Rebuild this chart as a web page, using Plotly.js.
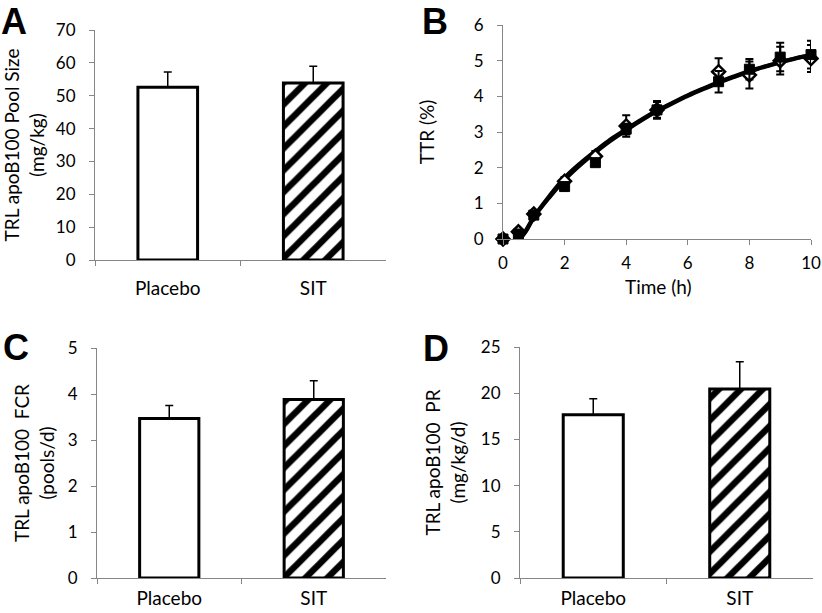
<!DOCTYPE html>
<html>
<head>
<meta charset="utf-8">
<script src="https://cdn.plot.ly/plotly-3.0.1.min.js"></script>
<style>html,body{margin:0;padding:0;background:#fff}#chart{width:822px;height:613px}</style>
</head>
<body>
<div id="chart"></div>
<script>
// ---- data ----
const groups = ['Placebo', 'SIT'];
const poolSize = [52.6, 53.9];
const poolSizeErr = [4.6, 5.1];
const fcr = [3.47, 3.88];
const fcrErr = [0.28, 0.41];
const pr = [17.67, 20.45];
const prErr = [1.73, 2.95];

const timeH = [0, 0.5, 1, 2, 3, 4, 5, 7, 8, 9, 10];
const ttrPlacebo = [0, 0.2, 0.7, 1.62, 2.32, 3.17, 3.62, 4.69, 4.6, 5.0, 5.06];
const ttrPlaceboErr = [0, 0.05, 0.08, 0.12, 0.15, 0.3, 0.25, 0.38, 0.38, 0.39, 0.38];
const ttrSIT = [0, 0.14, 0.67, 1.47, 2.14, 3.08, 3.62, 4.41, 4.76, 5.1, 5.17];
const ttrSITErr = [0, 0.04, 0.08, 0.1, 0.1, 0.15, 0.22, 0.3, 0.29, 0.4, 0.39];

const fitTime = [0.55, 0.75, 1, 1.5, 2, 2.5, 3, 3.5, 4, 4.5, 5, 5.5, 6, 6.5, 7, 7.5, 8, 8.5, 9, 9.5, 10];
const fitPlacebo = [0, 0.25, 0.62, 1.2, 1.72, 2.12, 2.47, 2.8, 3.08, 3.35, 3.6, 3.82, 4.03, 4.22, 4.4, 4.56, 4.71, 4.84, 4.96, 5.07, 5.16];
const fitSIT = [0, 0.22, 0.6, 1.16, 1.66, 2.07, 2.43, 2.76, 3.05, 3.33, 3.58, 3.8, 4.01, 4.2, 4.38, 4.54, 4.69, 4.83, 4.95, 5.06, 5.15];

// ---- styles ----
const FONT = 'Lato, "Open Sans", sans-serif';
const AXC = '#868686';
const W = 822, H = 613;
const px = v => v / W;
const py = v => 1 - v / H;

function barTrace(vals, errs, xa, ya) {
  return {
    type: 'bar', x: groups, y: vals, xaxis: xa, yaxis: ya, width: 0.41,
    marker: {
      color: '#ffffff',
      line: {color: '#000000', width: 3},
      pattern: {shape: ['', '/'], fgcolor: '#000000', bgcolor: '#ffffff', fgopacity: 1, size: 15.5, solidity: 0.42, fillmode: 'replace'}
    },
    error_y: {type: 'data', symmetric: false, array: errs, arrayminus: [0, 0], color: '#000000', thickness: 1.5, width: 4},
    showlegend: false, hoverinfo: 'x+y'
  };
}

const traces = [
  barTrace(poolSize, poolSizeErr, 'x', 'y'),
  barTrace(fcr, fcrErr, 'x3', 'y3'),
  barTrace(pr, prErr, 'x4', 'y4'),
  {type: 'scatter', mode: 'lines', x: fitTime, y: fitPlacebo, xaxis: 'x2', yaxis: 'y2',
   line: {color: '#000', width: 4, shape: 'spline'}, showlegend: false, cliponaxis: false},
  {type: 'scatter', mode: 'lines', x: fitTime, y: fitSIT, xaxis: 'x2', yaxis: 'y2',
   line: {color: '#000', width: 4, shape: 'spline'}, showlegend: false, cliponaxis: false},
  {type: 'scatter', mode: 'markers', x: timeH, y: ttrPlacebo, xaxis: 'x2', yaxis: 'y2', cliponaxis: false,
   marker: {symbol: 'diamond', size: 10, color: '#ffffff', line: {color: '#000', width: 2.5}},
   error_y: {type: 'data', array: ttrPlaceboErr, color: '#000', thickness: 2, width: 4}, showlegend: false},
  {type: 'scatter', mode: 'markers', x: timeH, y: ttrSIT, xaxis: 'x2', yaxis: 'y2', cliponaxis: false,
   marker: {symbol: 'square', size: 10, color: '#000000', line: {color: '#000', width: 1}},
   error_y: {type: 'data', array: ttrSITErr, color: '#000', thickness: 2, width: 4}, showlegend: false}
];

const baseAxis = {
  showline: true, linecolor: AXC, linewidth: 1, ticks: 'outside', tickcolor: AXC, ticklen: 5,
  showgrid: false, zeroline: false, tickfont: {family: FONT, size: 17, color: '#000'}, fixedrange: true
};
function catAxis(domain, anchor, standoff) {
  return Object.assign({}, baseAxis, {
    domain: domain, anchor: anchor, type: 'category', range: [-0.5, 1.5], tickson: 'boundaries',
    tickfont: {family: FONT, size: 19, color: '#000'}, ticklabelstandoff: standoff
  });
}
function valAxis(domain, anchor, range, dtick, title, standoff) {
  return Object.assign({}, baseAxis, {
    domain: domain, anchor: anchor, range: range, dtick: dtick, tick0: 0, ticklabelstandoff: 10,
    title: {text: title, font: {family: FONT, size: 19, color: '#000'}, standoff: standoff}
  });
}

const letterFont = {family: 'Liberation Sans, Arial, sans-serif', size: 36, color: '#000'};

const layout = {
  width: W, height: H, margin: {l: 0, r: 0, t: 0, b: 0}, paper_bgcolor: '#fff', plot_bgcolor: 'rgba(0,0,0,0)',
  font: {family: FONT, color: '#000'}, bargap: 0.59,
  xaxis: catAxis([px(95), px(386)], 'y', 11),
  yaxis: valAxis([py(260), py(30)], 'x', [0, 70], 10, 'TRL apoB100 Pool Size<br>(mg/kg)', 12),
  xaxis2: Object.assign({}, baseAxis, {domain: [px(503), px(811)], anchor: 'y2', range: [0, 10], dtick: 2, tick0: 0,
    ticklabelstandoff: 4}),
  yaxis2: valAxis([py(239), py(25)], 'x2', [0, 6], 1, 'TTR (%)', 34),
  xaxis3: catAxis([px(97), px(386)], 'y3', 3),
  yaxis3: valAxis([py(578), py(348)], 'x3', [0, 5], 1, 'TRL apoB100  FCR<br>(pools/d)', 8),
  xaxis4: catAxis([px(520), px(813)], 'y4', 3),
  yaxis4: valAxis([py(578), py(347)], 'x4', [0, 25], 5, 'TRL apoB100  PR<br>(mg/kg/d)', 10),
  annotations: [
    {text: 'Time (h)', x: px(658), y: py(287), xref: 'paper', yref: 'paper', xanchor: 'center', yanchor: 'middle', showarrow: false, font: {family: FONT, size: 19, color: '#000'}},
    {text: '<b>A</b>', x: px(0), y: 1, xref: 'paper', yref: 'paper', xanchor: 'left', yanchor: 'top', borderpad: 0, showarrow: false, font: letterFont},
    {text: '<b>B</b>', x: px(421), y: 1, xref: 'paper', yref: 'paper', xanchor: 'left', yanchor: 'top', borderpad: 0, showarrow: false, font: letterFont},
    {text: '<b>C</b>', x: px(1), y: py(347), xref: 'paper', yref: 'paper', xanchor: 'left', yanchor: 'middle', showarrow: false, font: letterFont},
    {text: '<b>D</b>', x: px(421), y: py(348), xref: 'paper', yref: 'paper', xanchor: 'left', yanchor: 'middle', showarrow: false, font: letterFont}
  ]
};

Plotly.newPlot('chart', traces, layout, {displayModeBar: false, staticPlot: true});
</script>
</body>
</html>
